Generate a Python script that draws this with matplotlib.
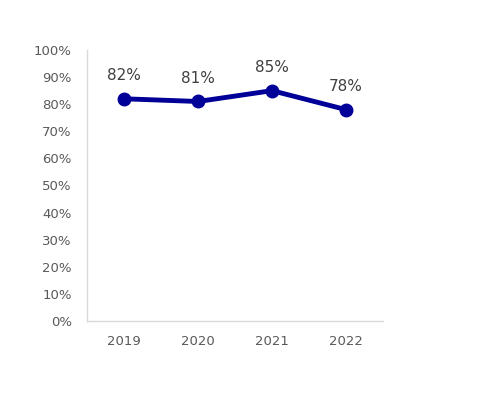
import matplotlib
matplotlib.use("Agg")
import matplotlib.pyplot as plt
from matplotlib.ticker import PercentFormatter

years = ["2019", "2020", "2021", "2022"]
values = [82, 81, 85, 78]
labels = ["82%", "81%", "85%", "78%"]

fig = plt.figure(figsize=(4.8, 3.95), dpi=100)
ax = fig.add_axes([87/480, 1-321/395, (383-87)/480, (321-50)/395])
x = list(range(len(years)))
ax.plot(x, values, color="#000099", lw=3.5, marker="o", markersize=9, solid_capstyle="round")
for xi, v, lab in zip(x, values, labels):
    ax.annotate(lab, (xi, v), xytext=(0, 11.5), textcoords="offset points", ha="center", va="bottom",
                fontsize=11, color="#404040")
ax.set_xlim(-0.5, 3.5)
ax.set_ylim(0, 100)
ax.set_yticks(range(0, 101, 10))
ax.yaxis.set_major_formatter(PercentFormatter(decimals=0))
ax.set_xticks(x)
ax.set_xticklabels(years)
for s in ["top", "right"]:
    ax.spines[s].set_visible(False)
for s in ["left", "bottom"]:
    ax.spines[s].set_color("#d9d9d9")
    ax.spines[s].set_linewidth(1)
ax.tick_params(axis="both", length=0, labelsize=9.5, labelcolor="#595959")
ax.tick_params(axis="y", pad=11)
ax.tick_params(axis="x", pad=10)
fig.savefig("out.png", dpi=100)
